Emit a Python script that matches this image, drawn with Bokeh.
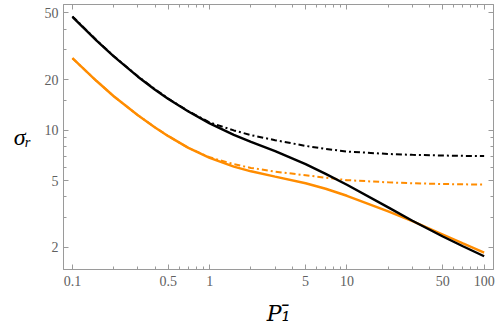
from bokeh.plotting import figure
from bokeh.models import FixedTicker, LogAxis, CustomLabelingPolicy
from bokeh.embed import file_html
from bokeh.resources import INLINE

# data
x_black = [0.1, 0.15, 0.2, 0.3, 0.4, 0.5, 0.7, 1, 1.5, 2, 3, 5, 7, 10, 20, 30, 50, 70, 100]
y_black = [47.3, 34.1, 27.5, 20.8, 17.4, 15.3, 12.9, 10.96, 9.36, 8.5, 7.5, 6.27, 5.48, 4.72, 3.46, 2.88, 2.32, 2.03, 1.77]

x_black_dd = [0.1, 0.15, 0.2, 0.3, 0.4, 0.5, 0.7, 1, 1.5, 2, 3, 5, 7, 10, 20, 30, 50, 70, 100]
y_black_dd = [47.6, 34.3, 27.6, 20.9, 17.5, 15.4, 12.95, 11.1, 9.95, 9.33, 8.7, 8.05, 7.72, 7.45, 7.2, 7.12, 7.05, 7.02, 7.0]

x_orange = [0.1, 0.15, 0.2, 0.3, 0.4, 0.5, 0.7, 1, 1.5, 2, 3, 5, 7, 10, 20, 30, 50, 70, 100]
y_orange = [26.8, 19.6, 15.9, 12.25, 10.37, 9.2, 7.83, 6.82, 6.06, 5.68, 5.28, 4.82, 4.47, 4.06, 3.28, 2.87, 2.385, 2.11, 1.86]

x_orange_dd = [0.1, 0.15, 0.2, 0.3, 0.4, 0.5, 0.7, 1, 1.5, 2, 3, 5, 7, 10, 20, 30, 50, 70, 100]
y_orange_dd = [26.8, 19.6, 15.9, 12.25, 10.37, 9.2, 7.83, 6.88, 6.26, 5.95, 5.65, 5.38, 5.2, 5.03, 4.88, 4.82, 4.77, 4.75, 4.73]

x_ticks = [0.1, 0.5, 1, 5, 10, 50, 100]
x_tick_labels = ["0.1", "0.5", "1", "5", "10", "50", "100"]
x_minor = [0.2, 0.3, 0.4, 0.6, 0.7, 0.8, 0.9, 2, 3, 4, 6, 7, 8, 9, 20, 30, 40, 60, 70, 80, 90]
y_ticks = [2, 5, 10, 20, 50]
y_tick_labels = ["2", "5", "10", "20", "50"]
y_minor = [3, 4, 6, 7, 8, 9, 15, 30, 40]

FRAME = "#9a9a9a"
LABEL = "#606060"
ORANGE = "#ff8c00"
SERIF = "Liberation Serif"
LSERIF = "DejaVu Serif"

p = figure(width=498, height=335, x_axis_type="log", y_axis_type="log",
           x_range=(0.0861, 117), y_range=(1.476, 56),
           output_backend="svg", toolbar_location=None,
           min_border_left=63, min_border_right=5, min_border_top=4, min_border_bottom=66)
p.grid.visible = False
p.outline_line_color = FRAME
p.outline_line_width = 1

p.add_layout(LogAxis(), "above")
p.add_layout(LogAxis(), "right")

for ax in p.xaxis:
    ax.ticker = FixedTicker(ticks=x_ticks, minor_ticks=x_minor)
for ax in p.yaxis:
    ax.ticker = FixedTicker(ticks=y_ticks, minor_ticks=y_minor)

for ax in p.axis:
    ax.axis_line_color = FRAME
    ax.major_tick_line_color = FRAME
    ax.minor_tick_line_color = FRAME
    ax.major_tick_in = 5
    ax.major_tick_out = 0
    ax.minor_tick_in = 3
    ax.minor_tick_out = 0
    ax.major_label_text_font = SERIF
    ax.major_label_text_font_size = "14px"
    ax.major_label_text_color = LABEL

for ax in (p.above[0], p.right[0]):
    ax.major_label_policy = CustomLabelingPolicy(code="// no labels on the mirror axes")
    ax.major_label_text_font_size = "0px"
    ax.major_label_standoff = 0
    ax.axis_label = None

xa = p.below[0]
xa.major_label_overrides = {v: s for v, s in zip(x_ticks, x_tick_labels)}
xa.major_label_standoff = 6
xa.axis_label = "P\u2081\u0304"
xa.axis_label_text_font = LSERIF
xa.axis_label_text_font_style = "italic"
xa.axis_label_text_font_size = "22px"
xa.axis_label_text_color = "black"
xa.axis_label_standoff = 12

ya = p.left[0]
ya.major_label_overrides = {v: s for v, s in zip(y_ticks, y_tick_labels)}
ya.major_label_standoff = 5
ya.axis_label = "\u03c3\u1d63"
ya.axis_label_orientation = "horizontal"
ya.axis_label_text_font = SERIF
ya.axis_label_text_font_style = "italic"
ya.axis_label_text_font_size = "24px"
ya.axis_label_text_color = "black"
ya.axis_label_standoff = 10

p.line(x_black_dd, y_black_dd, line_color="black", line_width=2, line_dash="6 3 2 3")
p.line(x_orange_dd, y_orange_dd, line_color=ORANGE, line_width=2, line_dash="6 3 2 3")
p.line(x_orange, y_orange, line_color=ORANGE, line_width=2.4)
p.line(x_black, y_black, line_color="black", line_width=2.4)

open("out.html", "w").write(file_html(p, INLINE))
